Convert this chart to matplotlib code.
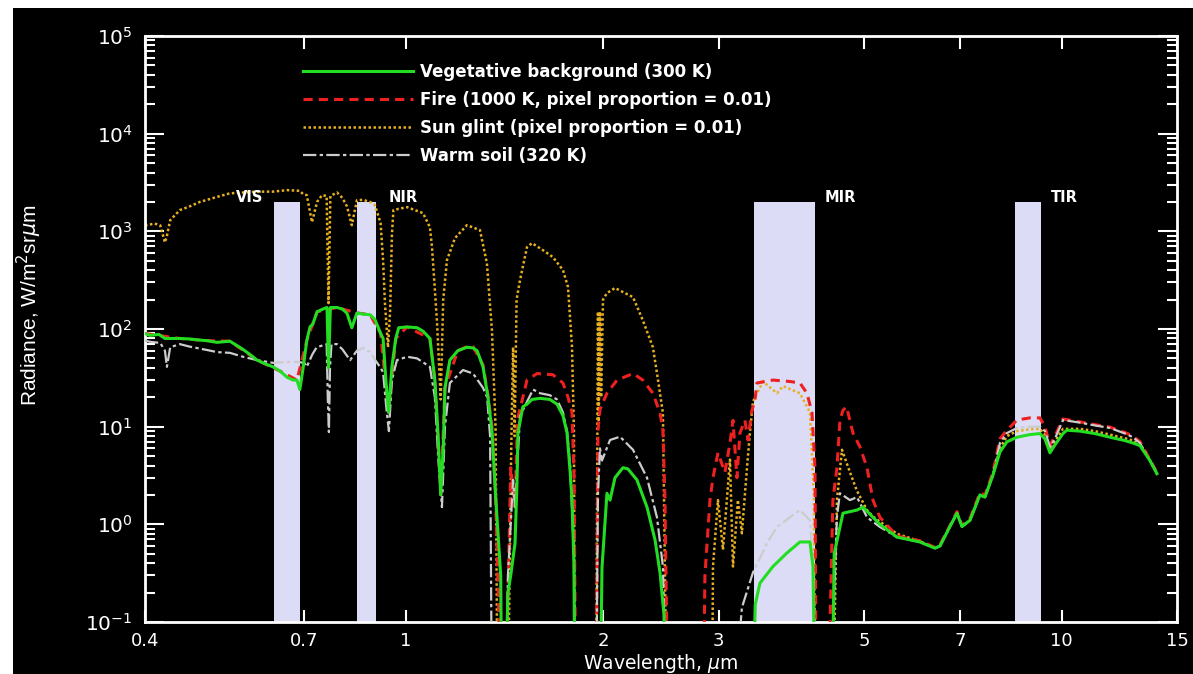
import numpy as np
import matplotlib.pyplot as plt
from matplotlib.patches import Rectangle
from matplotlib.ticker import FixedLocator, NullLocator, LogLocator, NullFormatter

# Spektrale bånd (µm) og etiketter
band_names = ['VIS', 'NIR', 'MIR', 'TIR']
band_lo = [0.629, 0.842, 3.40, 8.50]
band_hi = [0.689, 0.900, 4.21, 9.30]
band_label_x = [0.578, 0.99, 4.60, 10.1]
band_top = 2000

# Vegetasjon (300 K)
veg_wl = [0.400, 0.407, 0.420, 0.429, 0.452, 0.468, 0.485, 0.497, 0.515, 0.539, 0.564, 0.578,
          0.593, 0.610, 0.627, 0.643, 0.659, 0.673, 0.682, 0.689, 0.697, 0.706, 0.714, 0.721,
          0.732, 0.747, 0.758, 0.762, 0.767, 0.785, 0.800, 0.813, 0.827, 0.842, 0.860, 0.882,
          0.897, 0.903, 0.915, 0.923, 0.932, 0.941, 0.952, 0.965, 0.975, 1.004, 1.040, 1.062,
          1.088, 1.107, 1.120, 1.130, 1.140, 1.147, 1.167, 1.200, 1.239, 1.266, 1.284, 1.311,
          1.334, 1.353, 1.370, 1.395, 1.401,
          1.416, 1.431, 1.445, 1.467, 1.477, 1.482, 1.508, 1.530, 1.557, 1.602, 1.658, 1.700,
          1.736, 1.761, 1.780, 1.792, 1.804, 1.811,
          1.977, 1.991, 2.026, 2.048, 2.084, 2.143, 2.180, 2.251, 2.332, 2.399, 2.441, 2.475, 2.484,
          3.38, 3.41, 3.467, 3.629, 3.813, 3.990, 4.133, 4.177, 4.21,
          4.465, 4.50, 4.641, 4.875, 4.980, 5.157, 5.284, 5.610, 6.081, 6.411, 6.525, 6.758,
          6.926, 7.050, 7.250, 7.508, 7.642, 7.860, 8.054, 8.255, 8.551, 8.950, 9.268, 9.434,
          9.601, 9.770, 10.05, 10.19, 10.67, 11.24, 11.85, 12.50, 12.85, 13.17, 13.64, 13.98]
veg_rad = [90, 86, 88, 80, 80, 79, 77, 76, 73, 75, 62, 55,
           48, 44, 41, 37, 32, 30, 30, 24, 40, 76, 105, 112,
           150, 160, 166, 40, 166, 166, 160, 145, 103, 146, 142, 140,
           125, 112, 90, 80, 30, 14, 41, 80, 103, 105, 103, 95,
           80, 30, 8, 2.0, 6, 25, 48, 60, 65, 64, 60, 41,
           20, 9, 2, 0.3, 0.01,
           0.01, 0.2, 0.3, 0.64, 2.6, 8.6, 16, 17, 19, 19.5, 19, 17,
           13, 8.6, 3.5, 1.77, 0.4, 0.01,
           0.01, 0.36, 2.08, 1.77, 3.0, 3.8, 3.7, 2.85, 1.5, 0.69, 0.32, 0.12, 0.01,
           0.01, 0.15, 0.25, 0.37, 0.51, 0.66, 0.66, 0.37, 0.01,
           0.01, 0.5, 1.3, 1.4, 1.5, 1.18, 1.0, 0.74, 0.66, 0.57, 0.6, 0.95,
           1.3, 0.95, 1.1, 2.0, 1.9, 3.2, 5.5, 7.0, 7.8, 8.3, 8.5, 7.5,
           5.4, 6.5, 8.5, 9.2, 9.0, 8.5, 7.8, 7.2, 6.8, 6.4, 4.5, 3.3]

# Brann (1000 K, pikselandel 0.01)
fire_wl = [0.400, 0.452, 0.497, 0.539, 0.593, 0.643, 0.682, 0.706, 0.732, 0.785, 0.842, 0.882,
           0.915, 0.941, 0.965, 1.004, 1.088, 1.107, 1.130, 1.147, 1.200, 1.239, 1.266, 1.311,
           1.334, 1.353, 1.370, 1.400,
           1.416, 1.431, 1.445, 1.467, 1.480, 1.508, 1.530, 1.585, 1.676, 1.736, 1.767, 1.792,
           1.805, 1.817,
           1.950, 1.963, 1.977, 2.026, 2.099, 2.220, 2.298, 2.381, 2.441, 2.466, 2.484, 2.510,
           2.840, 2.858, 2.909, 2.940, 2.992, 3.066, 3.121, 3.154, 3.198, 3.232, 3.289, 3.324,
           3.371, 3.407, 3.431, 3.629, 3.853, 3.990, 4.090, 4.162, 4.207, 4.225,
           4.400, 4.480, 4.544, 4.592, 4.641, 4.700, 4.807, 4.927, 5.050, 5.157, 5.284, 5.610,
           6.081, 6.411, 6.525, 6.758, 6.926, 7.050, 7.250, 7.508, 7.642, 7.860, 8.054, 8.255,
           8.551, 8.950, 9.268, 9.434, 9.601, 9.770, 10.05, 10.67, 11.24, 11.85, 12.50, 12.85,
           13.17, 13.64, 13.98]
fire_rad = [90, 80, 76, 75, 48, 37, 30, 76, 150, 166, 146, 140,
            90, 14, 80, 105, 80, 30, 2.0, 25, 60, 66, 66, 43,
            21, 10, 2, 0.01,
            0.01, 0.17, 3.8, 1.5, 12, 20, 30, 35, 34, 28, 20, 14,
            3, 0.01,
            0.01, 9, 15, 22, 30, 35, 30, 22, 13.8, 9.2, 1.77, 0.01,
            0.01, 0.3, 1.77, 3.0, 5.4, 3.4, 6.8, 11.6, 3.0, 8.6, 11.6, 7.3,
            14.7, 18.7, 28, 30, 29, 28, 22, 14, 3.8, 0.01,
            0.01, 1.77, 3.8, 11.6, 14.7, 16, 8.6, 6.2, 3.8, 1.77, 1.18, 0.76,
            0.68, 0.58, 0.62, 0.97, 1.35, 0.97, 1.15, 2.1, 2.0, 3.4, 7.5, 9.2,
            11.7, 12.3, 12.3, 10, 6.4, 8, 12, 11.2, 10.5, 9.9, 8.7, 8,
            7, 4.6, 3.4]

# Solrefleks (pikselandel 0.01)
glint_wl = [0.400, 0.414, 0.422, 0.429, 0.432, 0.437, 0.452, 0.468, 0.485, 0.497, 0.515, 0.539,
            0.564, 0.593, 0.627, 0.659, 0.689, 0.697, 0.706, 0.719, 0.732, 0.745, 0.757, 0.762,
            0.767, 0.785, 0.800, 0.813, 0.827, 0.842, 0.860, 0.882, 0.897, 0.915, 0.923, 0.929,
            0.939, 0.946, 0.952, 0.957, 0.975, 1.004, 1.062, 1.088, 1.096, 1.115, 1.130, 1.140,
            1.155, 1.188, 1.239, 1.297, 1.329, 1.353, 1.370, 1.380,
            1.430, 1.447, 1.457, 1.465, 1.475, 1.493, 1.530, 1.557, 1.618, 1.676, 1.736, 1.767,
            1.792, 1.804, 1.811,
            1.950, 1.963, 1.968, 1.977, 1.985, 1.998, 2.026, 2.084, 2.220, 2.298, 2.381, 2.424,
            2.466, 2.500,
            2.930, 2.940, 2.992, 3.045, 3.121, 3.154, 3.209, 3.254, 3.313, 3.347, 3.383, 3.504,
            3.681, 3.760, 3.990, 4.133, 4.190, 4.210,
            4.480, 4.544, 4.625, 4.757, 4.875, 5.050, 5.157, 5.610, 6.081, 6.411, 6.525, 6.758,
            6.926, 7.050, 7.250, 7.508, 7.642, 7.860, 8.054, 8.255, 8.551, 8.950, 9.268, 9.434,
            9.601, 9.770, 10.05, 10.67, 11.24, 11.85, 12.50, 12.85, 13.17, 13.64, 13.98]
glint_rad = [1150, 1200, 1150, 770, 900, 1300, 1650, 1800, 2000, 2100, 2250, 2450,
             2500, 2550, 2550, 2640, 2600, 2400, 2350, 1240, 2000, 2350, 2300, 184,
             2300, 2500, 2200, 1800, 1157, 2086, 2100, 2000, 1854, 1213, 500, 184,
             65, 150, 900, 1648, 1700, 1769, 1536, 1100, 689, 123, 19, 200,
             507, 852, 1157, 1029, 473, 95, 10, 0.01,
             0.01, 5, 65, 8, 200, 317, 689, 757, 642, 544, 401, 269,
             65, 9, 0.01,
             0.01, 150, 10, 150, 20, 200, 233, 263, 212, 123, 65, 30,
             13.8, 0.01,
             0.01, 0.37, 1.77, 0.55, 4.6, 0.37, 1.77, 0.81, 3.8, 8.6, 18, 29,
             22, 26, 22, 14, 2, 0.01,
             0.01, 1.77, 5.8, 3.4, 2.2, 1.4, 1.2, 0.8, 0.67, 0.57, 0.6, 0.95,
             1.3, 0.95, 1.1, 2.0, 1.9, 3.2, 6.0, 8.0, 9.0, 9.4, 9.5, 8.3,
             5.8, 7.0, 9.5, 9.5, 9.0, 8.3, 7.6, 7.2, 6.6, 4.5, 3.3]

# Varm jord (320 K)
soil_wl = [0.400, 0.407, 0.422, 0.429, 0.432, 0.437, 0.452, 0.468, 0.497, 0.515, 0.539, 0.564,
           0.593, 0.627, 0.659, 0.682, 0.700, 0.706, 0.720, 0.731, 0.757, 0.760, 0.763, 0.766,
           0.770, 0.785, 0.800, 0.822, 0.842, 0.860, 0.882, 0.898, 0.915, 0.923, 0.935, 0.942,
           0.952, 0.969, 1.004, 1.040, 1.088, 1.107, 1.120, 1.135, 1.147, 1.167, 1.222, 1.266,
           1.311, 1.330, 1.344, 1.353,
           1.416, 1.431, 1.457, 1.467, 1.493, 1.530, 1.563, 1.602, 1.658, 1.700, 1.736, 1.761,
           1.780, 1.804, 1.811,
           1.950, 1.963, 1.977, 1.991, 2.048, 2.121, 2.220, 2.332, 2.415, 2.466, 2.500,
           3.154, 3.254, 3.383, 3.554, 3.681, 3.853, 3.990, 4.133, 4.190, 4.210,
           4.434, 4.544, 4.592, 4.757, 4.875, 5.050, 5.284, 5.610, 6.081, 6.411, 6.525, 6.758,
           6.926, 7.050, 7.250, 7.508, 7.642, 7.860, 8.054, 8.255, 8.551, 8.950, 9.268, 9.434,
           9.601, 9.770, 10.05, 10.67, 11.24, 11.85, 12.50, 12.85, 13.17, 13.64, 13.98]
soil_rad = [76, 74, 72, 60, 41, 65, 70, 66, 61, 58, 57, 52,
            48, 45, 46, 46, 45, 41, 55, 65, 70, 20, 8.8, 40,
            70, 70, 62, 48, 60, 64, 58, 48, 40, 36, 14, 9,
            30, 48, 52, 50, 41, 20, 5, 1.5, 10, 28, 38, 35,
            25, 20, 8, 0.01,
            0.01, 0.3, 2.85, 1.5, 12.8, 18, 24, 22, 21, 19, 14, 9,
            4, 0.5, 0.01,
            0.01, 2, 6, 4.5, 7.3, 7.9, 5.8, 3.0, 1.18, 0.37, 0.01,
            0.01, 0.14, 0.32, 0.64, 0.94, 1.18, 1.4, 1.1, 0.3, 0.01,
            0.01, 1.2, 2.08, 1.77, 1.9, 1.18, 0.94, 0.74, 0.66, 0.57, 0.6, 0.95,
            1.3, 0.95, 1.1, 2.0, 1.9, 3.2, 6.8, 8.6, 9.7, 10, 10, 9,
            6.2, 7.5, 11.7, 11, 10.3, 9.7, 8.5, 7.8, 6.8, 4.5, 3.3]

xticks = [0.4, 0.7, 1, 2, 3, 5, 7, 10, 15]
xtick_labels = ['0.4', '0.7', '1', '2', '3', '5', '7', '10', '15']
yticks = [0.1, 1, 10, 100, 1e3, 1e4, 1e5]

fig = plt.figure(figsize=(11.93, 6.74), dpi=100, facecolor='white')
# svart bakgrunn med hvit kant oppe og til venstre
fig.add_artist(Rectangle((13 / 1193, 0), 1, (674 - 8) / 674, transform=fig.transFigure,
                         facecolor='black', edgecolor='none', zorder=0))
ax = fig.add_axes([145 / 1193, 52 / 674, 1032 / 1193, 586 / 674])
ax.set_facecolor('black')
ax.set_xscale('log')
ax.set_yscale('log')
ax.set_xlim(0.4, 15)
ax.set_ylim(0.1, 1e5)

for lo, hi in zip(band_lo, band_hi):
    ax.fill_between([lo, hi], 0.1, band_top, color='#dcdcf6', lw=0, zorder=1)
for name, x in zip(band_names, band_label_x):
    ax.text(x, 2200, name, color='white', fontsize=10.5, fontweight='bold',
            ha='center', va='center', zorder=5)

l_glint, = ax.plot(glint_wl, glint_rad, color='#e8b020', lw=1.8, ls=(0, (1, 1)), zorder=2)
l_fire, = ax.plot(fire_wl, fire_rad, color='#ee2020', lw=2.2, ls=(0, (3, 2)), zorder=3)
l_soil, = ax.plot(soil_wl, soil_rad, color='#cccccc', lw=1.6, ls=(0, (6, 1.5, 1.5, 1.5)), zorder=3)
l_veg, = ax.plot(veg_wl, veg_rad, color='#22dd22', lw=2.2, zorder=4)

ax.legend([l_veg, l_fire, l_glint, l_soil],
          ['Vegetative background (300 K)', 'Fire (1000 K, pixel proportion = 0.01)',
           'Sun glint (pixel proportion = 0.01)', 'Warm soil (320 K)'],
          loc='upper left', bbox_to_anchor=(0.153, 0.954), frameon=False,
          handlelength=6.6, handletextpad=0.45, labelspacing=0.6, borderpad=0,
          borderaxespad=0, labelcolor='white', prop={'size': 12, 'weight': 'bold'})

for s in ax.spines.values():
    s.set_color('white')
    s.set_linewidth(2)
ax.xaxis.set_major_locator(FixedLocator(xticks))
ax.xaxis.set_minor_locator(NullLocator())
ax.set_xticklabels(xtick_labels)
ax.yaxis.set_major_locator(FixedLocator(yticks))
ax.yaxis.set_minor_locator(LogLocator(base=10, subs=np.arange(2, 10), numticks=10))
ax.yaxis.set_minor_formatter(NullFormatter())
ax.tick_params(axis='x', which='major', direction='in', length=9, width=1.5, colors='white',
               top=True, labelsize=13, pad=7)
ax.tick_params(axis='y', which='major', direction='in', length=14, width=1.5, colors='white',
               right=True, labelsize=14.5, pad=9)
ax.tick_params(axis='y', which='minor', direction='in', length=7, width=1.5, colors='white',
               right=True)

ax.set_xlabel('Wavelength, $\\mu$m', color='white', fontsize=13.5)
ax.xaxis.set_label_coords(0.5, -0.052)
ax.set_ylabel('Radiance, W/m$^2$sr$\\mu$m', color='white', fontsize=15,
              family='Liberation Sans')
ax.yaxis.set_label_coords(-0.098, 0.54)

fig.savefig('out.png', dpi=100, facecolor=fig.get_facecolor())
